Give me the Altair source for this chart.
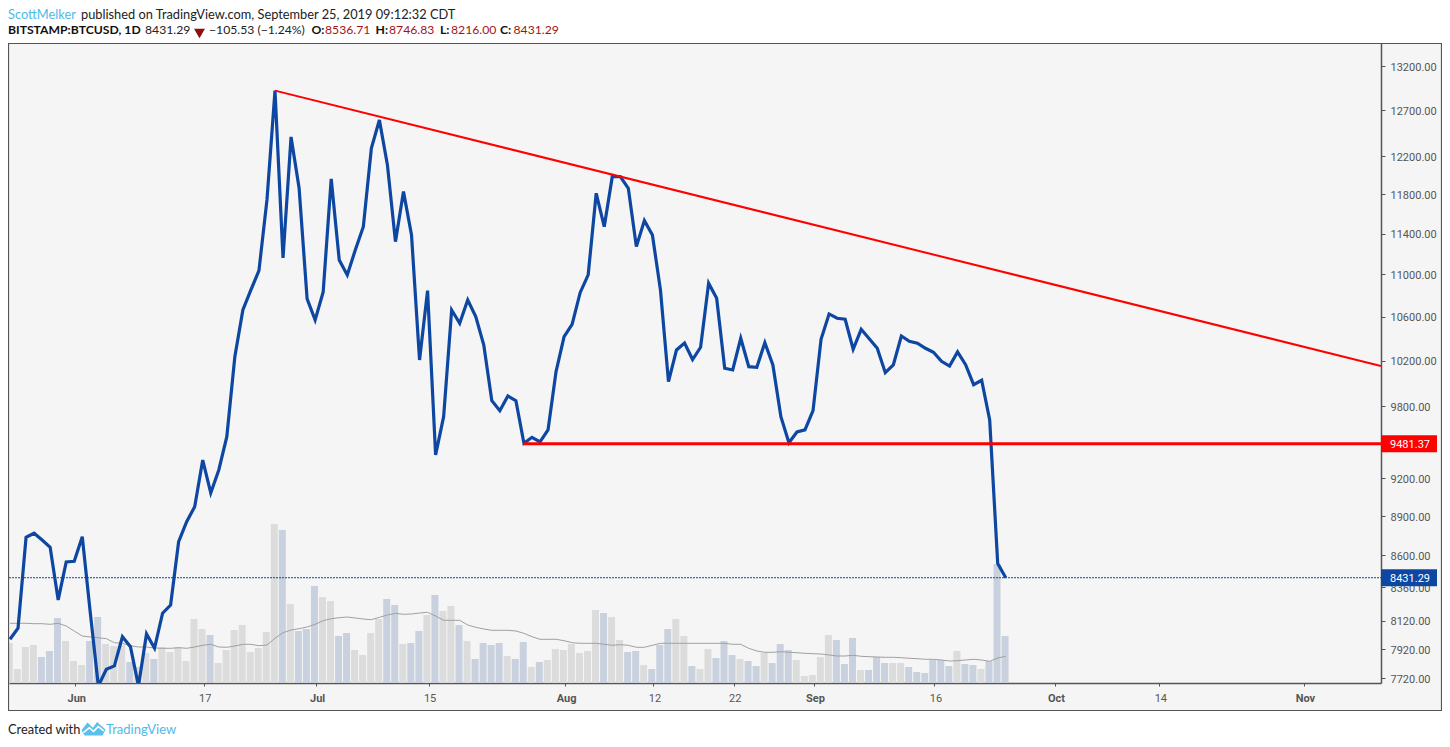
import altair as alt
import pandas as pd

# Daily closes, BITSTAMP:BTCUSD, day 0 = 24 May 2019
close = [7989,8066,8736,8767,8715,8660,8269,8549,8554,8740,8175,7668,7781,7804,8007,7937,7668,8026,7926,8173,8232,8702,8856,8973,9348,9082,9267,9541,10235,10662,10851,11036,11742,12923,11160,12409,11866,10766,10569,10832,11960,11140,10995,11238,11470,12286,12595,12108,11320,11828,11387,10205,10844,9389,9710,10662,10539,10756,10600,10340,9847,9761,9888,9847,9486,9536,9497,9598,10101,10416,10529,10825,10995,11811,11470,11984,11984,11863,11271,11531,11387,10851,10013,10295,10358,10209,10319,10915,10772,10131,10116,10401,10145,10140,10361,10160,9710,9491,9581,9598,9761,10392,10625,10585,10576,10301,10483,10397,10310,10092,10160,10422,10374,10356,10310,10274,10193,10151,10277,10163,9986,10025,9682,8536.71,8431.29]
volume = [40,14,36,38,26,32,65,42,22,18,42,66,39,37,38,21,16,30,24,36,31,36,22,64,54,48,20,33,53,58,31,35,51,159,153,79,52,54,97,86,82,47,50,33,28,50,64,84,78,39,40,52,68,88,72,77,58,42,24,40,38,40,27,24,41,16,21,23,34,33,39,30,32,73,70,66,43,31,32,18,14,38,54,64,47,17,14,34,25,42,28,24,22,17,30,20,39,33,23,7,8,26,48,43,19,45,13,13,26,20,20,20,16,11,10,23,23,17,32,19,18,14,22,119,47]
blue_days = [4,5,6,10,11,15,18,25,34,36,37,38,41,42,47,48,50,51,53,56,58,59,60,61,63,64,66,74,77,78,80,81,82,85,88,89,90,92,93,95,96,97,103,104,105,107,108,109,112,113,114,115,116,117,119,120,122,123,124]
vol_ma = [59.7,59.7,59.7,59.3,59.3,58.7,59.7,57.0,52.0,47.0,46.0,45.3,44.3,40.3,39.7,37.3,36.0,36.0,35.0,34.7,34.7,35.3,34.7,36.0,37.7,38.7,36.0,35.7,37.0,38.7,38.7,37.3,38.0,44.7,50.3,53.0,54.3,56.0,58.7,62.3,64.3,65.3,66.0,65.0,64.0,63.3,65.7,68.0,69.7,68.7,69.0,70.0,70.7,67.0,62.7,62.7,62.7,58.0,55.7,54.0,52.7,52.7,52.7,52.0,49.7,46.3,43.7,43.7,43.7,42.3,40.3,39.7,39.7,39.7,38.7,37.7,38.3,37.7,35.7,35.7,37.7,39.7,39.7,39.7,39.7,39.7,39.7,39.7,39.7,39.7,38.7,38.7,34.7,32.0,30.7,30.7,31.3,30.7,30.3,29.7,29.3,29.0,28.0,27.0,27.0,27.7,26.7,26.3,26.0,25.7,25.7,25.3,24.7,24.3,23.7,23.7,23.0,22.0,22.3,23.0,23.7,23.0,21.7,25.0,26.7]
x_ticks = [8,24,38,52,69,80,90,100,115,130,143,161]
x_labels = ["Jun","17","Jul","15","Aug","12","22","Sep","16","Oct","14","Nov"]
y_ticks = [13200,12700,12200,11800,11400,11000,10600,10200,9800,9200,8900,8600,8360,8120,7920,7720]
trend_days = [33,170.73]
trend_vals = [12923,10151]
support_days = [64,170.73]
support = 9481.37
last = 8431.29

days = list(range(len(close)))
df = pd.DataFrame({"i":days,"close":close,"vol":volume,"ma":vol_ma,
                   "down":[d in blue_days for d in days]})

xs = alt.Scale(domain=[-0.1245,170.73], nice=False, zero=False, padding=0)
ys = alt.Scale(type="log", domain=[7688,13474], nice=False)
vs = alt.Scale(domain=[0,640], nice=False, zero=True)
NUM = "Roboto"
HEAD = "Lato"
AXC = "#555555"
BLUE = "#0d47a1"
RED = "#ff0000"

one = pd.DataFrame({"a":[0]})
pairs = ",".join(f"'{v}':'{l}'" for v,l in zip(x_ticks,x_labels))
weight = " || ".join(f"datum.value=={v}" for v,l in zip(x_ticks,x_labels) if l.isalpha())
xaxis = alt.Axis(
    values=x_ticks, labelExpr="{"+pairs+"}[datum.value]", grid=False,
    domainColor=AXC, domainWidth=1.5, tickColor=AXC, tickSize=3, tickOffset=1, labelOffset=1,
    labelColor=AXC, labelFont=NUM, labelFontSize=11, labelPadding=6, labelFlush=False,
    labelOverlap=False, labelBound=False,
    labelFontWeight=alt.expr(f"({weight}) ? 'bold' : 'normal'"))
X = alt.X("i:Q", scale=xs, title=None, axis=xaxis)

bars = alt.Chart(df).mark_bar(size=7, xOffset=-0.7, clip=True).encode(
    x=X,
    y=alt.Y("vol:Q", scale=vs, axis=None),
    color=alt.Color("down:N", scale=alt.Scale(domain=[True,False], range=["#c9d1df","#dcdcdc"]), legend=None),
)
ma = alt.Chart(df).mark_line(color="#a0a0a0", strokeWidth=1, clip=True).encode(
    x=X, y=alt.Y("ma:Q", scale=vs, axis=None))

price = alt.Chart(df).mark_line(color=BLUE, strokeWidth=3.2, clip=True, strokeJoin="miter").encode(
    x=X,
    y=alt.Y("close:Q", scale=ys, title=None, axis=alt.Axis(
        orient="right", values=y_ticks, format=".2f", grid=False,
        domainColor=AXC, domainWidth=1.5, tickColor=AXC, tickSize=4,
        labelColor=AXC, labelFont=NUM, labelFontSize=11, labelPadding=5, labelOffset=1,
        labelOverlap=False, labelFlush=False, labelBound=False)))

Y = alt.Y("v:Q", scale=ys, axis=None)
dotted = alt.Chart(pd.DataFrame({"i":[-0.1245,170.73],"v":[last,last]})).mark_line(
    color="#0a45b5", strokeWidth=1, strokeDash=[2,1], clip=True).encode(x=X, y=Y)
trend = alt.Chart(pd.DataFrame({"i":trend_days,"v":trend_vals})).mark_line(
    color=RED, strokeWidth=2, clip=True).encode(x=X, y=Y)
hline = alt.Chart(pd.DataFrame({"i":support_days,"v":[support,support]})).mark_line(
    color=RED, strokeWidth=3, clip=True).encode(x=X, y=Y)

def band(x0, x1, y0, y1, fill="white"):
    return alt.Chart(one).mark_rect(fill=fill).encode(
        x=alt.value(x0), x2=alt.value(x1), y=alt.value(y0), y2=alt.value(y1))

white_top = band(-1, 1433, -35, 0)
white_bot = band(-1, 1433, 667.5, 693)
patch = band(1373, 1432, 641, 666, "#f5f5f5")
frame = alt.Chart(one).mark_rect(fill=None, stroke=AXC, strokeWidth=1.2).encode(
    x=alt.value(-0.5), x2=alt.value(1432.5), y=alt.value(0.5), y2=alt.value(667.5))

def flag(val, color):
    d = pd.DataFrame({"v":[val],"t":[f"{val:.2f}"]})
    r = alt.Chart(d).mark_rule(color=color, strokeWidth=17).encode(
        x=alt.value(1372), x2=alt.value(1428), y=Y)
    t = alt.Chart(d).mark_text(color="white", font=NUM, fontSize=11, align="left", baseline="middle", dy=1).encode(
        x=alt.value(1381), y=Y, text="t:N")
    return [r, t]

def label(txt, x, y, color="#222222", weight="normal", size=12.2, font=HEAD):
    return alt.Chart(pd.DataFrame({"t":[txt]})).mark_text(
        color=color, font=font, fontSize=size, fontWeight=weight, align="left", baseline="alphabetic"
    ).encode(x=alt.value(x), y=alt.value(y), text="t:N")

TV = "#4fb9e8"
DR = "#a31515"
texts = [
    label("ScottMelker", -1, -24, TV, size=12.8),
    label("published on TradingView.com, September 25, 2019 09:12:32 CDT", 72, -24, size=12.8),
    label("BITSTAMP:BTCUSD, 1D", -1, -9, "#111111", "bold"),
    label("8431.29", 136, -9),
    label("−105.53 (−1.24%)", 200, -9),
    label("O:", 302.5, -9, "#111111", "bold"),
    label("8536.71", 316, -9, DR),
    label("H:", 366.5, -9, "#111111", "bold"),
    label("8746.83", 380, -9, DR),
    label("L:", 431, -9, "#111111", "bold"),
    label("8216.00", 442, -9, DR),
    label("C:", 491, -9, "#111111", "bold"),
    label("8431.29", 504.5, -9, DR),
    label("Created with", -1, 691, "#222222", size=12.8),
    label("TradingView", 97, 691, TV, size=13),
]
tri = alt.Chart(one).mark_point(shape="triangle-down", filled=True, color="#8f0f0f", size=120, opacity=1).encode(
    x=alt.value(190.5), y=alt.value(-9.5))
logo = alt.Chart(one).mark_point(
    shape="M-1,0.1 L-0.5,-0.55 L-0.05,-0.1 L0.3,-0.58 L1,0.05 L0.75,0.55 L-0.75,0.55 Z",
    filled=True, color="#5bc0eb", size=576, opacity=1).encode(x=alt.value(84.5), y=alt.value(686))
logo2 = alt.Chart(one).mark_point(
    shape="M-0.85,0.3 L-0.35,-0.1 L0,0.2 L0.4,-0.2 L0.85,0.15",
    filled=False, color="white", strokeWidth=1.5, size=576, opacity=1).encode(x=alt.value(84.5), y=alt.value(686))

chart = alt.layer(
    bars, ma, price, dotted, trend, hline,
    white_top, white_bot, patch, *flag(last,BLUE), *flag(support,RED),
    frame, *texts, tri, logo, logo2
).resolve_scale(y="independent", color="independent").properties(
    width=1372, height=640,
    padding={"left":1,"top":35,"right":61,"bottom":53},
    autosize="none",
    background="#f5f5f5",
).configure_view(stroke=None)

chart.save("out.html", embed_options={"renderer":"svg","actions":False})
